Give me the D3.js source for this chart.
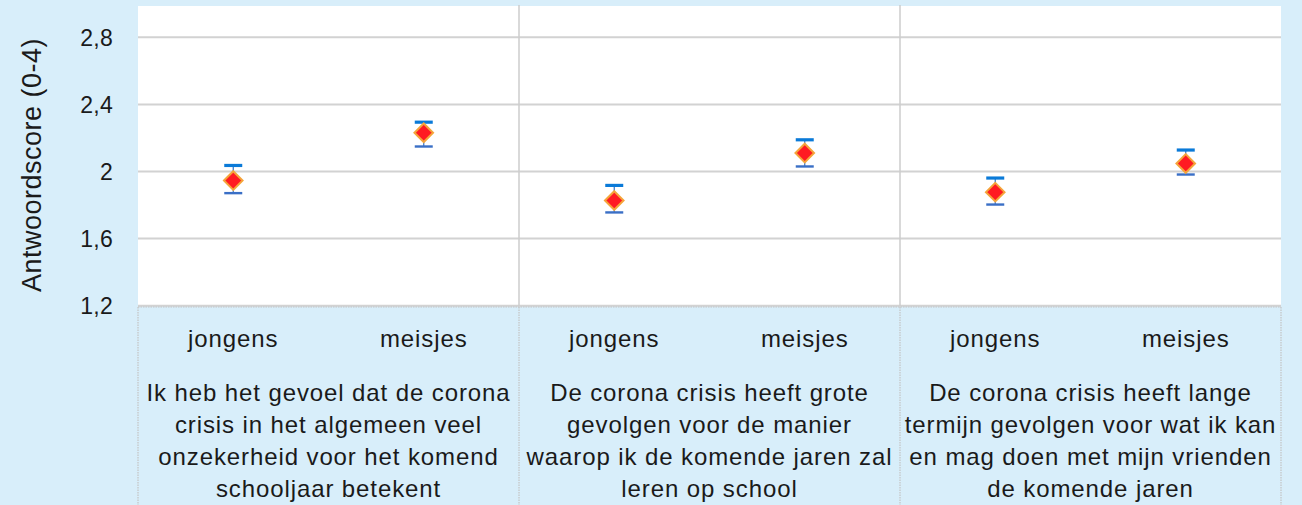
<!DOCTYPE html>
<html>
<head>
<meta charset="utf-8">
<script src="https://cdn.jsdelivr.net/npm/d3@7"></script>
<style>
  html, body { margin: 0; padding: 0; background: #d8eefa; }
  svg { display: block; }
  text { font-family: "Liberation Sans", Arial, sans-serif; fill: #1a1a1a; }
</style>
</head>
<body>
<svg id="chart" width="1302" height="505"></svg>
<script>
// ---- data ----
const groupLabels = [
  ["Ik heb het gevoel dat de corona", "crisis in het algemeen veel", "onzekerheid voor het komend", "schooljaar betekent"],
  ["De corona crisis heeft grote", "gevolgen voor de manier", "waarop ik de komende jaren zal", "leren op school"],
  ["De corona crisis heeft lange", "termijn gevolgen voor wat ik kan", "en mag doen met mijn vrienden", "de komende jaren"]
];
const subgroups = ["jongens", "meisjes"];
const meanJongens = [1.946, 1.827, 1.877];
const meanMeisjes = [2.231, 2.110, 2.048];
const upperJongens = [2.036, 1.917, 1.961];
const upperMeisjes = [2.294, 2.189, 2.128];
const lowerJongens = [1.871, 1.756, 1.803];
const lowerMeisjes = [2.149, 2.030, 1.982];
const yTicks = [1.2, 1.6, 2.0, 2.4, 2.8];
const yTitle = "Antwoordscore (0-4)";

// ---- layout ----
const W = 1302, H = 505;
const plotL = 138, plotR = 1281, plotT = 6, plotB = 306;
const svg = d3.select("#chart");

const y = d3.scaleLinear().domain([1.2, 2.8]).range([305.7, 37.3]);
const xg = d3.scaleBand().domain(d3.range(groupLabels.length)).range([plotL, plotR]).padding(0);
const xs = d3.scalePoint().domain(subgroups).range([0, xg.bandwidth()]).padding(0.5);

const points = [];
groupLabels.forEach((g, i) => {
  points.push({g: i, s: "jongens", m: meanJongens[i], hi: upperJongens[i], lo: lowerJongens[i]});
  points.push({g: i, s: "meisjes", m: meanMeisjes[i], hi: upperMeisjes[i], lo: lowerMeisjes[i]});
});
const px = d => xg(d.g) + xs(d.s);

// background
svg.append("rect").attr("x", 0).attr("y", 0).attr("width", W).attr("height", H).attr("fill", "#d8eefa");
// plot area
svg.append("rect").attr("x", plotL).attr("y", plotT).attr("width", plotR - plotL).attr("height", plotB - plotT).attr("fill", "#ffffff");

// horizontal gridlines
svg.append("g").selectAll("line").data(yTicks).join("line")
  .attr("x1", plotL).attr("x2", plotR)
  .attr("y1", d => y(d)).attr("y2", d => y(d))
  .attr("stroke", "#d2d2d2").attr("stroke-width", 2);

// vertical group dividers (inside plot)
svg.append("g").selectAll("line").data(d3.range(1, groupLabels.length)).join("line")
  .attr("x1", d => xg(d) ).attr("x2", d => xg(d))
  .attr("y1", plotT - 1).attr("y2", plotB)
  .attr("stroke", "#cdcdcd").attr("stroke-width", 1.5);

// category boxes (dotted borders)
const boxG = svg.append("g");
boxG.append("line").attr("x1", plotL).attr("x2", plotR).attr("y1", plotB + 1).attr("y2", plotB + 1)
  .attr("stroke", "#c4c4c4").attr("stroke-width", 1.2).attr("stroke-dasharray", "1.5,1");
boxG.selectAll("line.v").data(d3.range(0, groupLabels.length + 1)).join("line").attr("class", "v")
  .attr("x1", d => d < groupLabels.length ? xg(d) : plotR)
  .attr("x2", d => d < groupLabels.length ? xg(d) : plotR)
  .attr("y1", plotB + 1).attr("y2", H)
  .attr("stroke", "#c4c4c4").attr("stroke-width", 1.2).attr("stroke-dasharray", "1.5,1");

// y tick labels
svg.append("g").selectAll("text").data(yTicks).join("text")
  .attr("x", 113).attr("y", d => y(d)).attr("dy", "0.36em")
  .attr("text-anchor", "end").style("font-size", "23px").style("letter-spacing", "0.3px")
  .text(d => d3.format(".1f")(d).replace(/\.0$/, "").replace(".", ","));

// y title
svg.append("text")
  .attr("transform", "translate(41,165) rotate(-90)")
  .attr("text-anchor", "middle").style("font-size", "27px").style("letter-spacing", "0.5px")
  .text(yTitle);

// subgroup labels
svg.append("g").selectAll("text").data(points).join("text")
  .attr("x", d => px(d)).attr("y", 347)
  .attr("text-anchor", "middle").style("font-size", "24px").style("letter-spacing", "0.9px")
  .text(d => d.s);

// group labels
const gl = svg.append("g").selectAll("text").data(groupLabels).join("text")
  .attr("text-anchor", "middle").style("font-size", "24px").style("letter-spacing", "0.9px");
gl.selectAll("tspan").data((d, i) => d.map(t => ({t, i}))).join("tspan")
  .attr("x", d => xg(d.i) + xg.bandwidth() / 2)
  .attr("y", (d, j) => 401 + j * 32)
  .text(d => d.t);

// error bars
const eb = svg.append("g");
eb.selectAll("line.stem").data(points).join("line").attr("class", "stem")
  .attr("x1", px).attr("x2", px).attr("y1", d => y(d.hi)).attr("y2", d => y(d.lo))
  .attr("stroke", "#2f73c9").attr("stroke-width", 1.2);
eb.selectAll("line.top").data(points).join("line").attr("class", "top")
  .attr("x1", d => px(d) - 9).attr("x2", d => px(d) + 9)
  .attr("y1", d => y(d.hi)).attr("y2", d => y(d.hi))
  .attr("stroke", "#0a7ad8").attr("stroke-width", 3.2);
eb.selectAll("line.bot").data(points).join("line").attr("class", "bot")
  .attr("x1", d => px(d) - 9).attr("x2", d => px(d) + 9)
  .attr("y1", d => y(d.lo)).attr("y2", d => y(d.lo))
  .attr("stroke", "#3a6fc6").attr("stroke-width", 2.4);

// diamond markers
const sym = d3.symbol().type(d3.symbolDiamond2).size(220);
svg.append("g").selectAll("path").data(points).join("path")
  .attr("d", sym)
  .attr("transform", d => `translate(${px(d)},${y(d.m)})`)
  .attr("fill", "#ff1a22").attr("stroke", "#f5a43a").attr("stroke-width", 2);
</script>
</body>
</html>
